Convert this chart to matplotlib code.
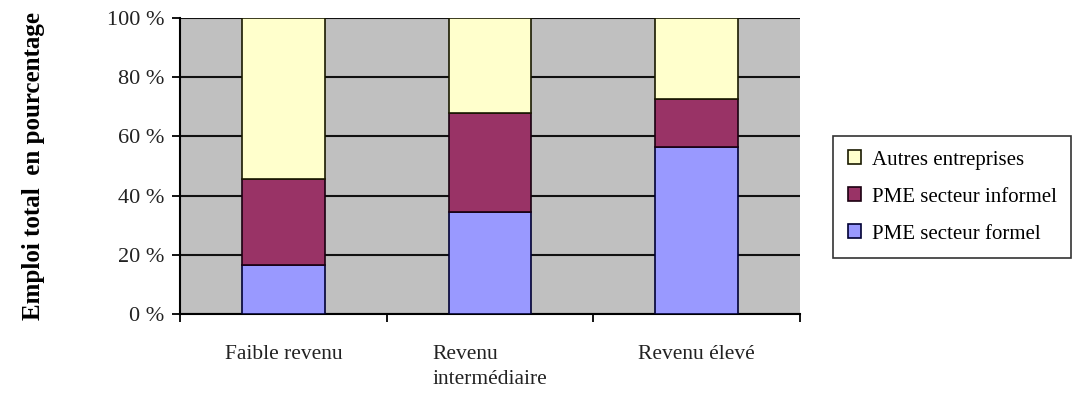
import numpy as np
import matplotlib.pyplot as plt

categories = ['Faible revenu', 'Revenu\nintermédiaire', 'Revenu élevé']
formel = [16.5, 34.5, 56.5]
informel = [29.0, 33.5, 16.0]
autres = [54.5, 32.0, 27.5]
yticks = [0, 20, 40, 60, 80, 100]

plt.rcParams['font.family'] = ['Liberation Serif', 'DejaVu Serif']

fig = plt.figure(figsize=(10.85, 3.94), dpi=100)
ax = fig.add_axes([0.1659, 0.203, 0.5714, 0.7513])
ax.set_facecolor('#c0c0c0')

x = np.arange(len(categories))
w = 0.4
b1 = ax.bar(x, formel, w, color='#9999ff', edgecolor='#000033', linewidth=1.2, zorder=3,
            label='PME secteur formel')
b2 = ax.bar(x, informel, w, bottom=formel, color='#993366', edgecolor='#1a0010', linewidth=1.2,
            zorder=3, label='PME secteur informel')
bottom2 = np.array(formel) + np.array(informel)
b3 = ax.bar(x, autres, w, bottom=bottom2, color='#ffffcc', edgecolor='#1a1a00', linewidth=1.2,
            zorder=3, label='Autres entreprises')

ax.set_xlim(-0.5, 2.5)
ax.set_ylim(0, 100)
ax.set_yticks(yticks)
ax.set_yticklabels(['%d %%' % v for v in yticks], fontsize=16, color='#222222')
ax.yaxis.grid(True, color='#111111', linewidth=1.5, zorder=1)
ax.set_axisbelow(True)

# ticks on category boundaries, labels centred
ax.set_xticks([-0.5, 0.5, 1.5, 2.5])
ax.set_xticklabels([])
ax.set_xticks(x, minor=True)
ax.set_xticklabels(categories, minor=True, fontsize=15.5, color='#222222',
                   multialignment='left', linespacing=1.45)
ax.tick_params(axis='x', which='minor', length=0, pad=22)
ax.tick_params(axis='x', which='major', length=6, width=1.3, direction='out')
ax.tick_params(axis='y', length=6, width=1.3, direction='out', pad=5)

ax.spines['right'].set_visible(False)
ax.spines['top'].set_visible(False)
ax.spines['left'].set_linewidth(1.5)
ax.spines['bottom'].set_linewidth(1.5)

fig.text(0.031, 0.578, 'Emploi total  en pourcentage', rotation=90, fontsize=18,
         fontweight='bold', ha='center', va='center')

handles = [b3, b2, b1]
leg = fig.legend(handles, [h.get_label() for h in handles], loc='center left',
                 bbox_to_anchor=(0.768, 0.5), fontsize=15, frameon=True, fancybox=False,
                 edgecolor='black', handlelength=0.65, handleheight=0.65, labelspacing=0.85,
                 handletextpad=0.5, borderpad=0.7, borderaxespad=0)
leg.get_frame().set_linewidth(1.2)

fig.savefig('out.png', dpi=100)
